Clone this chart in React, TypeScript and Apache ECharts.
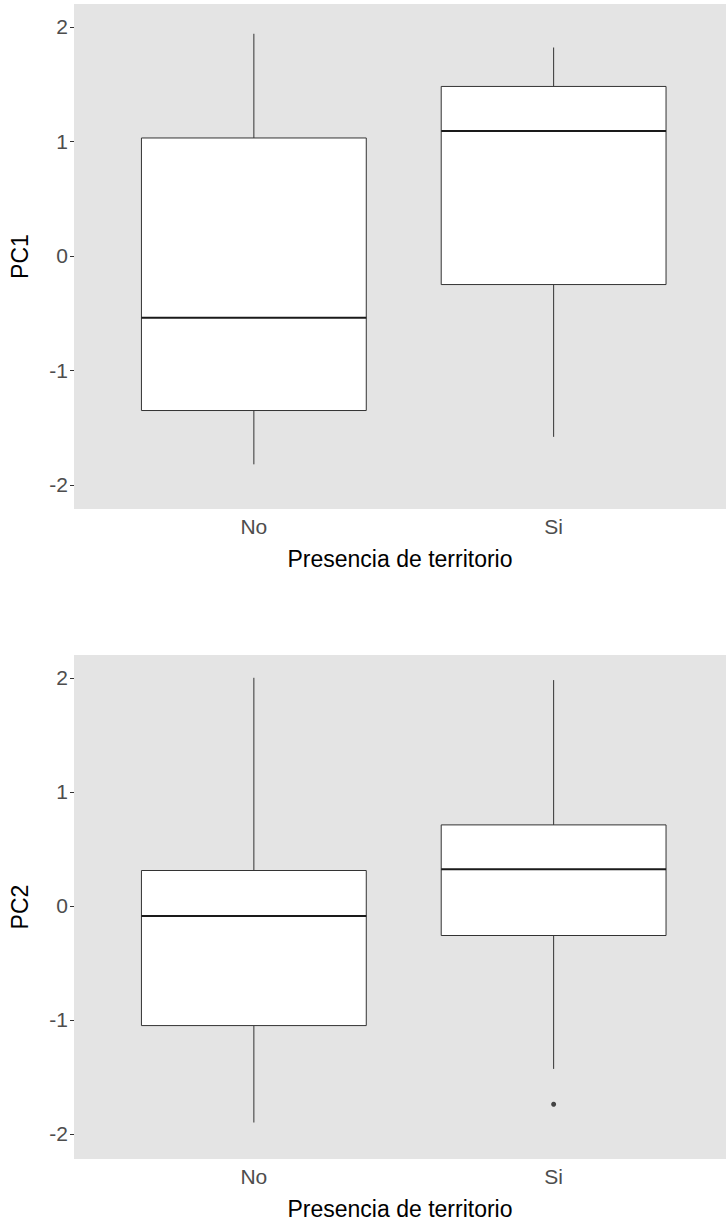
import React, { useEffect, useRef } from "react";
import * as echarts from "echarts";

const categories = ["No", "Si"];
const xTickValues = [1, 2];
const yTicks = [-2, -1, 0, 1, 2];
// [low whisker, Q1, median, Q3, high whisker]
const pc1No = [-1.82, -1.35, -0.54, 1.03, 1.94];
const pc1Si = [-1.58, -0.25, 1.09, 1.48, 1.82];
const pc2No = [-1.9, -1.05, -0.09, 0.31, 2.0];
const pc2Si = [-1.43, -0.26, 0.32, 0.71, 1.98];
const pc2Outliers = [{ category: "Si", value: -1.74 }];
const xTitle = "Presencia de territorio";
const yTitles = ["PC1", "PC2"];

const FONT = "'Liberation Sans', Arial, sans-serif";
const BOX_HALF = 0.375;

function renderBox(params: any, api: any) {
  const x = api.value(0);
  const lo = api.value(1);
  const q1 = api.value(2);
  const med = api.value(3);
  const q3 = api.value(4);
  const hi = api.value(5);
  const pLo = api.coord([x, lo]);
  const pQ1 = api.coord([x, q1]);
  const pMed = api.coord([x, med]);
  const pQ3 = api.coord([x, q3]);
  const pHi = api.coord([x, hi]);
  const left = api.coord([x - BOX_HALF, q3])[0];
  const right = api.coord([x + BOX_HALF, q3])[0];
  return {
    type: "group",
    children: [
      { type: "line", shape: { x1: pLo[0], y1: pLo[1], x2: pQ1[0], y2: pQ1[1] }, style: { stroke: "#333333", lineWidth: 1 } },
      { type: "line", shape: { x1: pQ3[0], y1: pQ3[1], x2: pHi[0], y2: pHi[1] }, style: { stroke: "#333333", lineWidth: 1 } },
      { type: "rect", shape: { x: left, y: pQ3[1], width: right - left, height: pQ1[1] - pQ3[1] }, style: { fill: "#ffffff", stroke: "#333333", lineWidth: 1 } },
      { type: "line", shape: { x1: left, y1: pMed[1], x2: right, y2: pMed[1] }, style: { stroke: "#1a1a1a", lineWidth: 2 } },
    ],
  };
}

function boxData(stats: number[][]) {
  return stats.map((s, i) => [xTickValues[i], ...s]);
}

export default function App() {
  const ref = useRef<HTMLDivElement>(null);
  useEffect(() => {
    if (!ref.current) return;
    const chart = echarts.init(ref.current, null, { renderer: "svg" });
    const grids = [
      { left: 69, top: 4, right: 0, height: 505 },
      { left: 69, top: 655, right: 0, height: 504 },
    ];
    const yRanges = [
      [-2.21, 2.2],
      [-2.22, 2.2],
    ];
    const xAxes = grids.map((_, i) => ({
      type: "value",
      gridIndex: i,
      min: 0.4,
      max: 2.575,
      name: xTitle,
      nameLocation: "middle",
      nameGap: 38,
      nameTextStyle: { fontSize: 23, color: "#000000", fontFamily: FONT },
      axisLine: { show: false },
      splitLine: { show: false },
      axisTick: { show: true, customValues: xTickValues, length: 4, lineStyle: { color: "#333333" } },
      axisLabel: {
        customValues: xTickValues,
        formatter: (v: number) => categories[Math.round(v) - 1],
        fontSize: 21,
        color: "#4d4d4d",
        fontFamily: FONT,
        margin: 7,
      },
    }));
    const yAxes = grids.map((_, i) => ({
      type: "value",
      gridIndex: i,
      min: yRanges[i][0],
      max: yRanges[i][1],
      name: yTitles[i],
      nameLocation: "middle",
      nameRotate: 90,
      nameGap: 43,
      nameTextStyle: { fontSize: 23, color: "#000000", fontFamily: FONT },
      axisLine: { show: false },
      splitLine: { show: false },
      axisTick: { show: true, customValues: yTicks, length: 4, lineStyle: { color: "#333333" } },
      axisLabel: {
        customValues: yTicks,
        formatter: (v: number) => String(v),
        fontSize: 21,
        color: "#4d4d4d",
        fontFamily: FONT,
        margin: 6,
      },
    }));
    chart.setOption({
      animation: false,
      backgroundColor: "#ffffff",
      grid: grids.map((g) => ({ ...g, show: true, backgroundColor: "#e4e4e4", borderWidth: 0 })),
      xAxis: xAxes,
      yAxis: yAxes,
      series: [
        {
          type: "custom",
          xAxisIndex: 0,
          yAxisIndex: 0,
          renderItem: renderBox,
          encode: { x: 0, y: [1, 2, 3, 4, 5] },
          data: boxData([pc1No, pc1Si]),
        },
        {
          type: "custom",
          xAxisIndex: 1,
          yAxisIndex: 1,
          renderItem: renderBox,
          encode: { x: 0, y: [1, 2, 3, 4, 5] },
          data: boxData([pc2No, pc2Si]),
        },
        {
          type: "scatter",
          xAxisIndex: 1,
          yAxisIndex: 1,
          symbol: "circle",
          symbolSize: 5,
          itemStyle: { color: "#1a1a1a" },
          data: pc2Outliers.map((o) => [xTickValues[categories.indexOf(o.category)], o.value]),
        },
      ],
    });
    return () => chart.dispose();
  }, []);
  return <div ref={ref} style={{ position: "absolute", left: 0, top: 0, width: 726, height: 1224 }} />;
}
